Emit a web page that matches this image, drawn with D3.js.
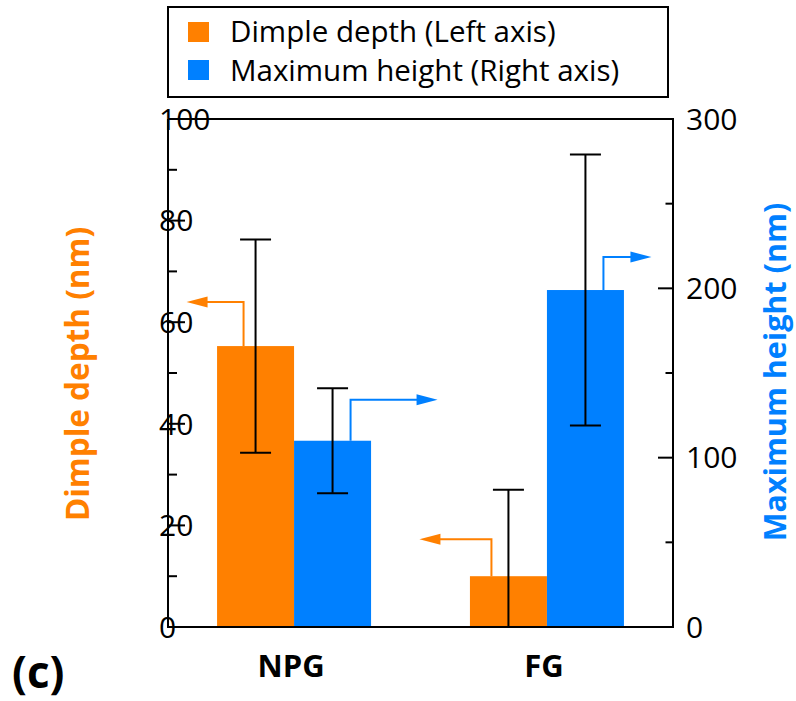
<!DOCTYPE html>
<html>
<head>
<meta charset="utf-8">
<script src="https://cdn.jsdelivr.net/npm/d3@7"></script>
<style>
  html, body { margin: 0; padding: 0; background: #fff; }
  svg { display: block; font-family: "Open Sans", "Noto Sans", sans-serif; }
</style>
</head>
<body>
<svg id="chart" width="796" height="701"></svg>
<script>
// ---- data ----
const categories = ["NPG", "FG"];
const depthValues = [55.3, 10];      // Dimple depth (nm), left axis
const depthErrors = [21, 17];
const heightValues = [110, 199];     // Maximum height (nm), right axis
const heightErrors = [31, 80];
const leftTicks = [0, 20, 40, 60, 80, 100];
const leftMinorTicks = [10, 30, 50, 70, 90];
const rightTicks = [0, 100, 200, 300];
const rightMinorTicks = [50, 150, 250];
const legendLabels = ["Dimple depth (Left axis)", "Maximum height (Right axis)"];

// ---- layout ----
const L = 168, R = 673, T = 119, B = 627;
const ORANGE = "#FF8000", BLUE = "#0080FF";
const svg = d3.select("#chart");

const x = d3.scaleBand().domain(categories).range([L, R]).paddingInner(0.391).paddingOuter(0.194);
const sub = d3.scaleBand().domain(["depth", "height"]).range([0, x.bandwidth()]);
const yL = d3.scaleLinear().domain([0, 100]).range([B, T]);
const yR = d3.scaleLinear().domain([0, 300]).range([B, T]);

const series = [
  { key: "depth", vals: depthValues, errs: depthErrors, scale: yL, color: ORANGE },
  { key: "height", vals: heightValues, errs: heightErrors, scale: yR, color: BLUE }
];
// arrow annotation layout: offset of vertical stem from bar centre, rise, horizontal run (px)
const arrowLayout = {
  depth:  [{ dx: -12, rise: 44, run: -57 }, { dx: -17, rise: 37, run: -72 }],
  height: [{ dx: 18,  rise: 41, run: 87 },  { dx: 18,  rise: 33, run: 48 }]
};

// bars
series.forEach(s => {
  const g = svg.append("g");
  categories.forEach((c, i) => {
    g.append("rect")
      .attr("x", x(c) + sub(s.key)).attr("width", sub.bandwidth())
      .attr("y", s.scale(s.vals[i])).attr("height", B - s.scale(s.vals[i]))
      .attr("fill", s.color);
  });
});

// arrows
series.forEach(s => {
  categories.forEach((c, i) => {
    const a = arrowLayout[s.key][i];
    const cx = x(c) + sub(s.key) + sub.bandwidth() / 2 + a.dx;
    const y0 = s.scale(s.vals[i]);
    const y1 = y0 - a.rise;
    const dir = Math.sign(a.run);
    const tipX = cx + a.run;
    const headLen = 21, headHalf = 5.5;
    svg.append("path")
      .attr("d", `M${cx},${y0}V${y1}H${tipX - dir * headLen + dir * 2}`)
      .attr("fill", "none").attr("stroke", s.color).attr("stroke-width", 2);
    svg.append("path")
      .attr("d", `M${tipX},${y1}L${tipX - dir * headLen},${y1 - headHalf}L${tipX - dir * headLen},${y1 + headHalf}Z`)
      .attr("fill", s.color);
  });
});

// error bars
series.forEach(s => {
  categories.forEach((c, i) => {
    const cx = x(c) + sub(s.key) + sub.bandwidth() / 2;
    const lo = Math.max(0, s.vals[i] - s.errs[i]);
    const hi = s.vals[i] + s.errs[i];
    const yHi = s.scale(hi), yLo = s.scale(lo);
    const cap = 15.5;
    svg.append("path")
      .attr("d", `M${cx},${yHi}V${yLo}M${cx - cap},${yHi}H${cx + cap}M${cx - cap},${yLo}H${cx + cap}`)
      .attr("fill", "none").attr("stroke", "#000").attr("stroke-width", 2);
  });
});

// frame
svg.append("path")
  .attr("d", `M${L},${T}V${B}H${R}V${T}H${L}`)
  .attr("fill", "none").attr("stroke", "#000").attr("stroke-width", 2);

// left axis ticks (inward)
svg.append("g").selectAll("line").data(leftTicks).join("line")
  .attr("x1", L).attr("x2", L + 17).attr("y1", d => yL(d)).attr("y2", d => yL(d))
  .attr("stroke", "#000").attr("stroke-width", 2);
svg.append("g").selectAll("line").data(leftMinorTicks).join("line")
  .attr("x1", L).attr("x2", L + 9).attr("y1", d => yL(d)).attr("y2", d => yL(d))
  .attr("stroke", "#000").attr("stroke-width", 2);
svg.append("g").selectAll("text").data(leftTicks).join("text")
  .attr("x", 159).attr("y", d => yL(d)).attr("dy", "0.36em")
  .attr("font-size", 30).attr("fill", "#000").text(d => d);

// right axis ticks (inward)
svg.append("g").selectAll("line").data(rightTicks).join("line")
  .attr("x1", R).attr("x2", R - 15).attr("y1", d => yR(d)).attr("y2", d => yR(d))
  .attr("stroke", "#000").attr("stroke-width", 2);
svg.append("g").selectAll("line").data(rightMinorTicks).join("line")
  .attr("x1", R).attr("x2", R - 7.5).attr("y1", d => yR(d)).attr("y2", d => yR(d))
  .attr("stroke", "#000").attr("stroke-width", 2);
svg.append("g").selectAll("text").data(rightTicks).join("text")
  .attr("x", 686).attr("y", d => yR(d)).attr("dy", "0.36em")
  .attr("font-size", 30).attr("fill", "#000").text(d => d);

// axis titles
svg.append("text")
  .attr("transform", `translate(89,374) rotate(-90)`)
  .attr("text-anchor", "middle").attr("font-size", 31.5).attr("font-weight", "bold")
  .attr("fill", ORANGE).text("Dimple depth (nm)");
svg.append("text")
  .attr("transform", `translate(786,372) rotate(-90)`)
  .attr("text-anchor", "middle").attr("font-size", 30.5).attr("font-weight", "bold")
  .attr("fill", BLUE).text("Maximum height (nm)");

// category labels
svg.append("g").selectAll("text").data(categories).join("text")
  .attr("x", d => x(d) + x.bandwidth() / 2 - 3).attr("y", 677)
  .attr("text-anchor", "middle").attr("font-size", 31).attr("font-weight", "bold")
  .attr("fill", "#000").text(d => d);

// panel label
svg.append("text").attr("x", 12).attr("y", 688)
  .attr("font-size", 44).attr("font-weight", "bold").attr("fill", "#000").text("(c)");

// legend
const lg = svg.append("g");
lg.append("rect").attr("x", 168).attr("y", 7).attr("width", 500).attr("height", 90)
  .attr("fill", "#fff").attr("stroke", "#000").attr("stroke-width", 2);
[ORANGE, BLUE].forEach((col, i) => {
  lg.append("rect").attr("x", 188).attr("y", 22 + i * 38).attr("width", 21).attr("height", 20).attr("fill", col);
  lg.append("text").attr("x", 230).attr("y", 42 + i * 39)
    .attr("font-size", 29.5).attr("fill", "#000").text(legendLabels[i]);
});
</script>
</body>
</html>
